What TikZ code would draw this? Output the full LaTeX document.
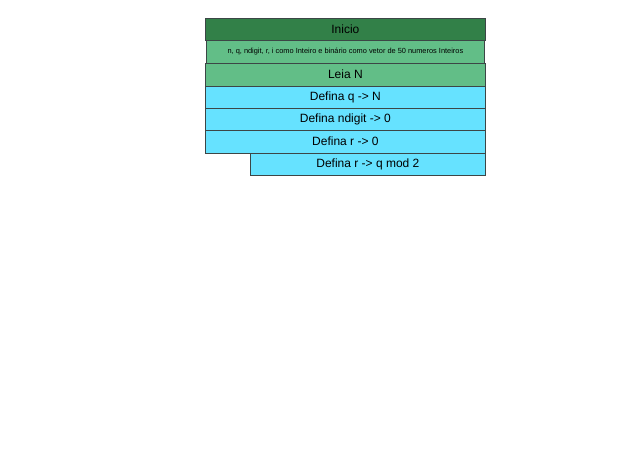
\documentclass[tikz,border=0pt]{standalone}
\usepackage{fontspec}
\setmainfont{Liberation Sans}
\definecolor{darkg}{RGB}{50,128,72}
\definecolor{lightg}{RGB}{98,190,135}
\definecolor{cyanb}{RGB}{102,226,255}
\definecolor{edge}{RGB}{60,70,70}
\begin{document}
\begin{tikzpicture}[x=1pt,y=-1pt,
  blk/.style={draw=edge,line width=0.8pt,anchor=north west,inner sep=0pt,font=\fontsize{12}{14}\selectfont,text=black},
]
\useasboundingbox[fill=white] (0,0) rectangle (640,471);
\node[blk,fill=darkg,minimum width=280pt,minimum height=21.5pt] (inicio) at (205,18) {Inicio};
\node[blk,fill=lightg,minimum width=278pt,minimum height=23pt,font=\fontsize{7.4}{9}\selectfont] (decl) at (206,39.5) {n, q, ndigit, r, i como Inteiro e binário como vetor de 50 numeros Inteiros};
\node[blk,fill=lightg,minimum width=280pt,minimum height=23.5pt] (leia) at (205,62.5) {Leia N};
\node[blk,fill=cyanb,minimum width=280pt,minimum height=22pt] (q) at (205,86) {Defina q -> N};
\node[blk,fill=cyanb,minimum width=280pt,minimum height=22pt] (nd) at (205,108) {Defina ndigit -> 0};
\node[blk,fill=cyanb,minimum width=280pt,minimum height=22.5pt] (r0) at (205,130) {Defina r -> 0};
\node[blk,fill=cyanb,minimum width=235pt,minimum height=22pt] (rmod) at (250,152.5) {Defina r -> q mod 2};
\end{tikzpicture}
\end{document}
